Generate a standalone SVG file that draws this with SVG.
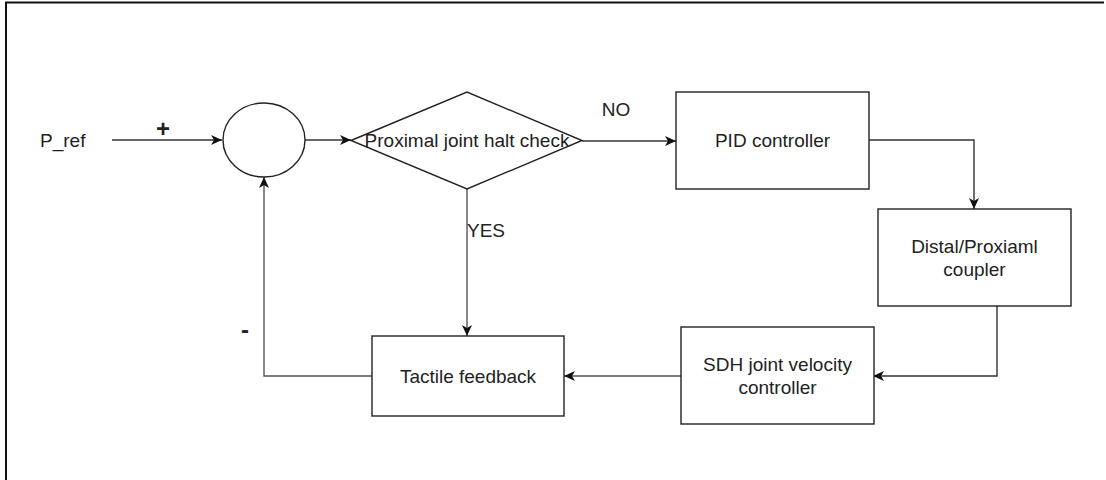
<svg xmlns="http://www.w3.org/2000/svg" width="1106" height="480" viewBox="0 0 1106 480">
<style>
text{font-family:"Liberation Sans",Arial,sans-serif;font-size:19px;fill:#222}
.c{text-anchor:middle}
.b{font-weight:bold}
.n{fill:#fff;stroke:#222;stroke-width:1.4}
.e{fill:none;stroke:#333;stroke-width:1.4}
.g{fill:none;stroke:#555;stroke-width:1.4}
</style>
<defs>
<marker id="ah" markerWidth="12" markerHeight="10" refX="11" refY="5" orient="auto" markerUnits="userSpaceOnUse">
<path d="M0,0 L11,5 L0,10 L3,5 Z" fill="#111"/>
</marker>
</defs>
<rect width="1106" height="480" fill="#fff"/>
<path d="M6,480 V2.5 H1104" fill="none" stroke="#111" stroke-width="2"/>
<g id="connectors">
<path class="e" d="M112,140 H222" marker-end="url(#ah)"/>
<path class="e" d="M305,140 H351" marker-end="url(#ah)"/>
<path class="e" d="M582,141 H676" marker-end="url(#ah)"/>
<path class="e" d="M869,140 H974 V209" marker-end="url(#ah)"/>
<path class="e" d="M997,306 V376 H873" marker-end="url(#ah)"/>
<path class="g" d="M681,376 H564" marker-end="url(#ah)"/>
<path class="g" d="M467,189 V336" marker-end="url(#ah)"/>
<path class="g" d="M372,376 H264 V177" marker-end="url(#ah)"/>
<text x="616" y="116" class="c">NO</text>
<text x="467" y="237">YES</text>
<text x="163" y="137" class="c b" style="font-size:24px">+</text>
<text x="245" y="338" class="c b" style="font-size:24px">-</text>
</g>
<g id="pref"><text x="40" y="147">P_ref</text></g>
<g id="sum"><ellipse class="n" cx="264" cy="140" rx="41" ry="37"/></g>
<g id="check">
<path class="n" d="M351,140.5 L467,92 L582,140.5 L467,189 Z"/>
<text x="467" y="147" class="c">Proximal joint halt check</text>
</g>
<g id="pid">
<rect class="n" x="676" y="92" width="193" height="97"/>
<text x="772.5" y="147" class="c">PID controller</text>
</g>
<g id="coupler">
<rect class="n" x="878" y="209" width="193" height="97"/>
<text x="974.5" y="252.5" class="c">Distal/Proxiaml</text>
<text x="974.5" y="275.5" class="c">coupler</text>
</g>
<g id="sdh">
<rect class="n" x="681" y="327" width="193" height="97"/>
<text x="777.5" y="371" class="c">SDH joint velocity</text>
<text x="777.5" y="394" class="c">controller</text>
</g>
<g id="tactile">
<rect class="n" x="372" y="336" width="192" height="80"/>
<text x="468" y="382.5" class="c">Tactile feedback</text>
</g>
</svg>
